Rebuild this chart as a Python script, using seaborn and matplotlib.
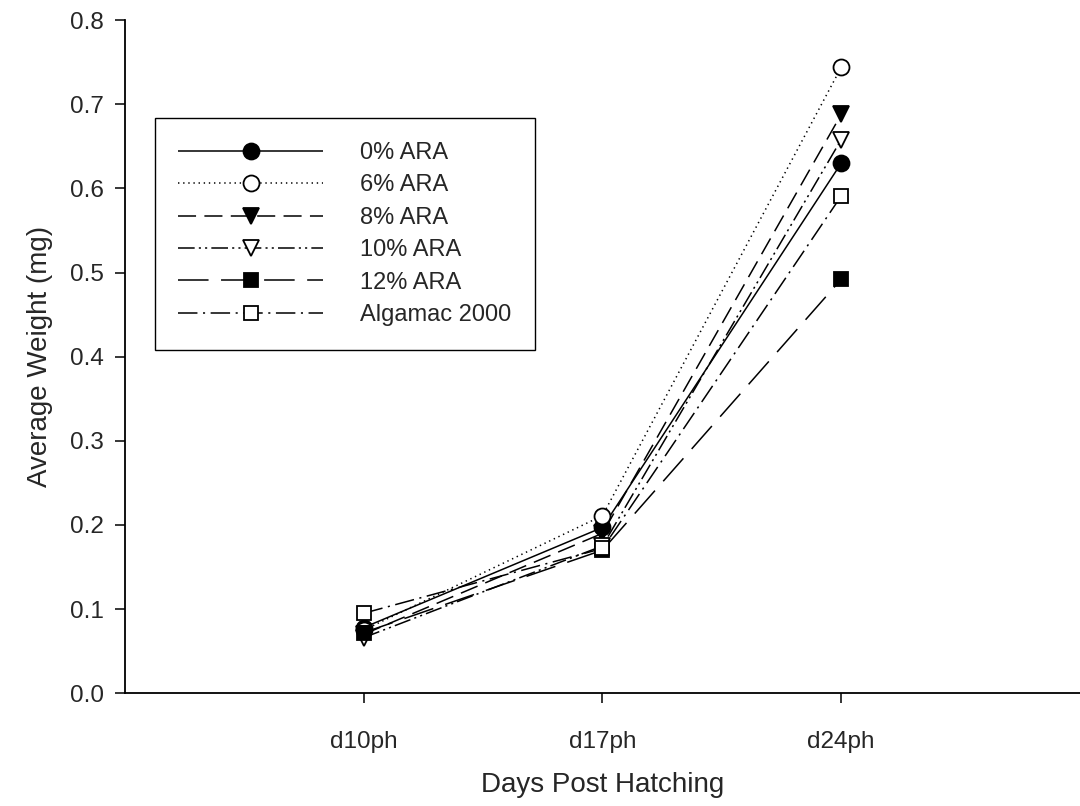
import numpy as np
import pandas as pd
import matplotlib
matplotlib.use("Agg")
import matplotlib.pyplot as plt
import seaborn as sns

# ---- data ----
days = ["d10ph", "d17ph", "d24ph"]
ara_0 = [0.078, 0.197, 0.630]
ara_6 = [0.075, 0.211, 0.744]
ara_8 = [0.070, 0.190, 0.688]
ara_10 = [0.066, 0.175, 0.658]
ara_12 = [0.072, 0.170, 0.492]
algamac = [0.095, 0.172, 0.591]

series = [
    ("0% ARA", ara_0, "o", "black", (0, ())),
    ("6% ARA", ara_6, "o", "white", (0, (1, 2.7))),
    ("8% ARA", ara_8, "v", "black", (0, (13, 6))),
    ("10% ARA", ara_10, "v", "white", (0, (12, 3, 1.5, 3, 1.5, 3))),
    ("12% ARA", ara_12, "s", "black", (0, (22, 9))),
    ("Algamac 2000", algamac, "s", "white", (0, (14, 4, 1.5, 4))),
]

sns.set_style("ticks")
plt.rcParams["font.family"] = ["Liberation Sans", "DejaVu Sans"]
plt.rcParams["lines.scale_dashes"] = False

fig = plt.figure(figsize=(10.8, 8.06), dpi=100)
ax = fig.add_axes([0.1157, 0.140, 0.8843, 0.835])

x_pos = np.arange(1, len(days) + 1)
for label, values, marker, face, dash in series:
    df = pd.DataFrame({"x": x_pos, "y": values})
    sns.lineplot(data=df, x="x", y="y", ax=ax, color="black", linewidth=1.1,
                 linestyle=dash, marker=marker, markersize=11.5 if marker != "s" else 10.5,
                 markerfacecolor=face, markeredgecolor="black", markeredgewidth=1.3,
                 label=label)

ax.set_xlim(0, 4)
ax.set_ylim(0, 0.8)
ax.set_xticks(x_pos)
ax.set_xticklabels(days)
ax.set_yticks(np.arange(0, 0.81, 0.1))
ax.set_yticklabels([f"{v:.1f}" for v in np.arange(0, 0.81, 0.1)])
ax.tick_params(axis="both", labelsize=17.5, length=7, width=1.1, color="black",
               direction="out")
ax.tick_params(axis="x", pad=20)
ax.tick_params(axis="y", pad=8)
ax.set_xlabel("Days Post Hatching", fontsize=20, labelpad=14)
ax.set_ylabel("Average Weight (mg)", fontsize=20, labelpad=12)
sns.despine(ax=ax)
for sp in ("left", "bottom"):
    ax.spines[sp].set_linewidth(1.3)
    ax.spines[sp].set_color("black")

leg = ax.legend(loc="upper left", bbox_to_anchor=(0.031, 0.854), fontsize=17,
                handlelength=6.15, handletextpad=1.55, labelspacing=0.44,
                borderpad=1.0, borderaxespad=0, fancybox=False, frameon=True,
                edgecolor="black", framealpha=1)
leg.get_frame().set_linewidth(1.0)

fig.savefig("out.png", dpi=100)
